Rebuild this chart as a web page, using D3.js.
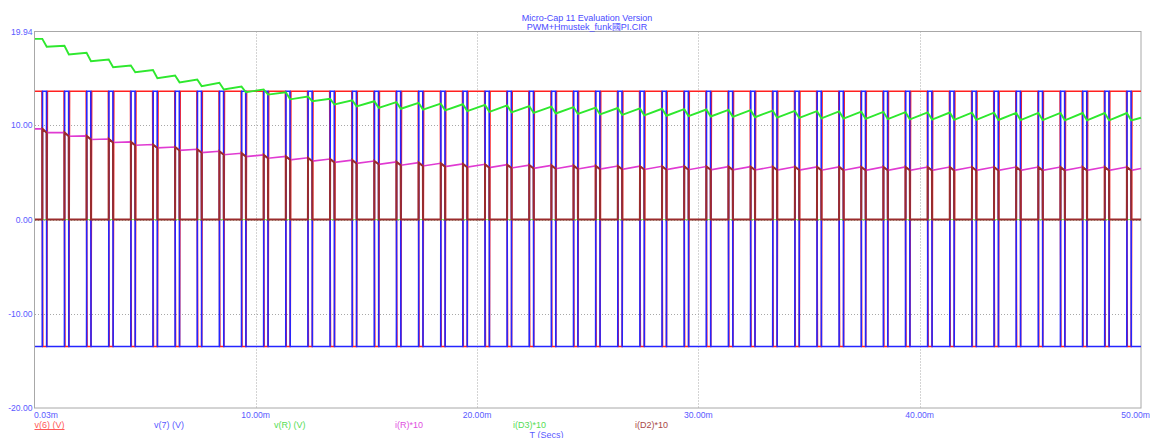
<!DOCTYPE html>
<html>
<head>
<meta charset="utf-8">
<script src="https://cdn.jsdelivr.net/npm/d3@7"></script>
<style>
  html, body { margin: 0; padding: 0; background: #ffffff; }
  svg { display: block; }
  text { font-family: "Liberation Sans", Arial, sans-serif; }
</style>
</head>
<body>
<svg id="chart" width="1150" height="438"></svg>
<script>
// Bridge output levels (V)
const levelHigh = 13.6;
const levelLow = -13.45;

// Switching interval of each 1 ms PWM cycle (ms)
const pulseOn = [0.36, 1.36, 2.36, 3.36, 4.36, 5.36, 6.36, 7.36, 8.36, 9.36,
  10.36, 11.36, 12.36, 13.36, 14.36, 15.36, 16.36, 17.36, 18.36, 19.36,
  20.36, 21.36, 22.36, 23.36, 24.36, 25.36, 26.36, 27.36, 28.36, 29.36,
  30.36, 31.36, 32.36, 33.36, 34.36, 35.36, 36.36, 37.36, 38.36, 39.36,
  40.36, 41.36, 42.36, 43.36, 44.36, 45.36, 46.36, 47.36, 48.36, 49.36];
const pulseOff = [0.56, 1.56, 2.56, 3.56, 4.56, 5.56, 6.56, 7.56, 8.56, 9.56,
  10.56, 11.56, 12.56, 13.56, 14.56, 15.56, 16.56, 17.56, 18.56, 19.56,
  20.56, 21.56, 22.56, 23.56, 24.56, 25.56, 26.56, 27.56, 28.56, 29.56,
  30.56, 31.56, 32.56, 33.56, 34.56, 35.56, 36.56, 37.56, 38.56, 39.56,
  40.56, 41.56, 42.56, 43.56, 44.56, 45.56, 46.56, 47.56, 48.56, 49.56];

// v(R): value at the start and at the end of each switching interval
const vrBefore = [19.16, 18.42, 17.68, 16.97, 16.33, 15.85, 15.27, 14.85, 14.50, 14.10,
  13.80, 13.50, 13.05, 12.80, 12.65, 12.55, 12.45, 12.38, 12.30, 12.23,
  12.16, 12.10, 12.04, 11.98, 11.93, 11.88, 11.83, 11.79, 11.75, 11.71,
  11.67, 11.63, 11.60, 11.56, 11.53, 11.50, 11.47, 11.44, 11.42, 11.39,
  11.37, 11.35, 11.34, 11.33, 11.32, 11.31, 11.31, 11.30, 11.30, 11.30];
const vrAfter = [18.33, 17.50, 16.80, 16.15, 15.62, 15.00, 14.55, 14.15, 13.80, 13.50,
  13.25, 12.75, 12.55, 12.20, 12.00, 11.85, 11.75, 11.66, 11.58, 11.50,
  11.43, 11.37, 11.31, 11.25, 11.20, 11.15, 11.10, 11.05, 11.01, 10.97,
  10.93, 10.89, 10.85, 10.81, 10.78, 10.74, 10.71, 10.68, 10.65, 10.62,
  10.60, 10.58, 10.57, 10.56, 10.55, 10.54, 10.53, 10.53, 10.52, 10.52];
const vrFinal = 10.8;

// i(R)*10: value at the start and at the end of each switching interval
const irBefore = [9.62, 9.24, 8.88, 8.55, 8.24, 7.96, 7.70, 7.46, 7.24, 7.04,
  6.86, 6.70, 6.55, 6.42, 6.31, 6.21, 6.12, 6.04, 5.97, 5.91,
  5.86, 5.82, 5.78, 5.75, 5.72, 5.70, 5.68, 5.66, 5.65, 5.64,
  5.63, 5.62, 5.61, 5.60, 5.60, 5.59, 5.59, 5.58, 5.58, 5.58,
  5.57, 5.57, 5.57, 5.57, 5.57, 5.57, 5.57, 5.57, 5.57, 5.57];
const irAfter = [9.22, 8.84, 8.50, 8.18, 7.88, 7.60, 7.34, 7.10, 6.88, 6.68,
  6.50, 6.34, 6.20, 6.07, 5.96, 5.86, 5.77, 5.69, 5.62, 5.56,
  5.51, 5.47, 5.43, 5.40, 5.37, 5.35, 5.33, 5.31, 5.30, 5.29,
  5.28, 5.27, 5.26, 5.25, 5.25, 5.24, 5.24, 5.23, 5.23, 5.23,
  5.22, 5.22, 5.22, 5.22, 5.22, 5.22, 5.22, 5.22, 5.22, 5.22];
const irFinal = 5.42;

// i(D3)*10 stays at zero over the run
const iD3Times = [0.03, 50];
const iD3Values = [0, 0];

// Axes
const timeRange = [0.03, 50];
const valueRange = [-20, 19.94];
const xTicks = [0.03, 10, 20, 30, 40, 50];
const xTickLabels = ["0.03m", "10.00m", "20.00m", "30.00m", "40.00m", "50.00m"];
const yTicks = [19.94, 10, 0, -10, -20];
const yTickLabels = ["19.94", "10.00", "0.00", "-10.00", "-20.00"];
const gridX = [10, 20, 30, 40];
const gridY = [10, 0, -10];

// Legend
const seriesNames = ["v(6) (V)", "v(7) (V)", "v(R) (V)", "i(R)*10", "i(D3)*10", "i(D2)*10"];
const seriesColors = ["#ff2020", "#2525ff", "#2ee82e", "#e03ad2", "#2ee82e", "#9a2c2c"];
const legendColors = ["#ff5a5a", "#5a5aff", "#55dd55", "#e050e0", "#55dd55", "#a84848"];
const titleLines = ["Micro-Cap 11 Evaluation Version", "PWM+Hmustek_funk國PI.CIR"];
const axisTitle = "T (Secs)";

const svg = d3.select("#chart");
const plotLeft = 35, plotRight = 1141, plotTop = 31.5, plotBottom = 408.3;

const x = d3.scaleLinear().domain(timeRange).range([plotLeft, plotRight]);
const y = d3.scaleLinear().domain(valueRange).range([plotBottom, plotTop]);

// Grid (dotted)
const grid = svg.append("g").attr("stroke", "#a8a8a8").attr("stroke-width", 1)
  .attr("stroke-dasharray", "1,2");
grid.selectAll("line.gx").data(gridX).join("line").attr("class", "gx")
  .attr("x1", d => Math.round(x(d)) + 0.5).attr("x2", d => Math.round(x(d)) + 0.5)
  .attr("y1", plotTop).attr("y2", plotBottom);
grid.selectAll("line.gy").data(gridY).join("line").attr("class", "gy")
  .attr("x1", plotLeft).attr("x2", plotRight)
  .attr("y1", d => Math.round(y(d)) + 0.5).attr("y2", d => Math.round(y(d)) + 0.5);

// Frame
svg.append("rect")
  .attr("x", plotLeft - 0.5).attr("y", Math.round(plotTop) - 0.5)
  .attr("width", plotRight - plotLeft + 0.5)
  .attr("height", Math.round(plotBottom) - Math.round(plotTop) + 0.5)
  .attr("fill", "none").attr("stroke", "#a8a8a8").attr("stroke-width", 1);

// Build traces
const n = pulseOn.length;
const v6 = [[timeRange[0], levelHigh]];
const v7 = [[timeRange[0], levelLow]];
const vr = [[timeRange[0], vrBefore[0]]];
const ir = [[timeRange[0], irBefore[0]]];
const d2 = [[timeRange[0], 0]];
for (let k = 0; k < n; k++) {
  const on = pulseOn[k], off = pulseOff[k];
  v6.push([on - 0.015, levelHigh], [on + 0.02, levelLow], [off, levelLow], [off + 0.03, levelHigh]);
  v7.push([on, levelLow], [on + 0.01, levelHigh], [off - 0.01, levelHigh], [off, levelLow]);
  vr.push([on, vrBefore[k]], [off, vrAfter[k]]);
  ir.push([on, irBefore[k]], [off, irAfter[k]]);
  d2.push([on, 0], [on + 0.005, irBefore[k]], [off - 0.005, irAfter[k]], [off, 0]);
}
v6.push([timeRange[1], levelHigh]);
v7.push([timeRange[1], levelLow]);
vr.push([timeRange[1], vrFinal]);
ir.push([timeRange[1], irFinal]);
d2.push([timeRange[1], 0]);
const d3trace = iD3Times.map((t, i) => [t, iD3Values[i]]);

const line = d3.line().x(d => x(d[0])).y(d => y(d[1]));
const plot = svg.append("g");
const traces = [
  { data: v6, color: seriesColors[0], w: 1.6 },
  { data: v7, color: seriesColors[1], w: 1.6 },
  { data: vr, color: seriesColors[2], w: 1.9 },
  { data: ir, color: seriesColors[3], w: 1.6 },
  { data: d3trace, color: seriesColors[4], w: 0.8 },
  { data: d2, color: seriesColors[5], w: 2 }
];
plot.selectAll("path").data(traces).join("path")
  .attr("d", d => line(d.data))
  .attr("fill", "none")
  .attr("stroke", d => d.color)
  .attr("stroke-width", d => d.w)
  .attr("stroke-linejoin", "miter");

// Y tick labels
svg.append("g").selectAll("text").data(yTicks).join("text")
  .attr("x", 32.5).attr("y", d => y(d) + 3)
  .attr("text-anchor", "end")
  .attr("font-size", 8.6).attr("fill", "#5a5aff")
  .text((d, i) => yTickLabels[i]);

// X tick labels
svg.append("g").selectAll("text").data(xTicks).join("text")
  .attr("x", d => x(d))
  .attr("y", 418)
  .attr("text-anchor", (d, i) => i === 0 ? "start" : (i === xTicks.length - 1 ? "end" : "middle"))
  .attr("dx", (d, i) => i === 0 ? -1 : (i === xTicks.length - 1 ? 9 : 0))
  .attr("font-size", 8.6).attr("fill", "#5a5aff")
  .text((d, i) => xTickLabels[i]);

// Legend row
const legendX = [34.5, 154, 274, 395, 513, 635];
const legend = svg.append("g");
legend.selectAll("text").data(seriesNames).join("text")
  .attr("x", (d, i) => legendX[i]).attr("y", 427.5)
  .attr("font-size", 9).attr("fill", (d, i) => legendColors[i])
  .text(d => d);
const firstLabel = legend.select("text").node().getComputedTextLength();
legend.append("line")
  .attr("x1", legendX[0]).attr("x2", legendX[0] + firstLabel)
  .attr("y1", 429.5).attr("y2", 429.5)
  .attr("stroke", legendColors[0]).attr("stroke-width", 1);

svg.append("text")
  .attr("x", 546.5).attr("y", 437.5).attr("text-anchor", "middle")
  .attr("font-size", 9).attr("fill", "#5a5aff")
  .text(axisTitle);

// Title
svg.append("g").selectAll("text").data(titleLines).join("text")
  .attr("x", 587).attr("y", (d, i) => 20.5 + i * 9)
  .attr("text-anchor", "middle")
  .attr("font-size", 9).attr("fill", "#4a4aff")
  .text(d => d);
</script>
</body>
</html>
